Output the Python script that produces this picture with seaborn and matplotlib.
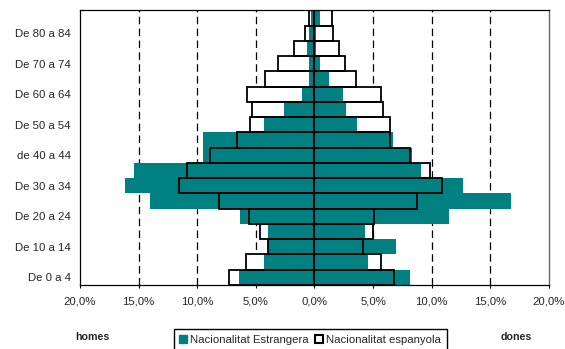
import numpy as np
import pandas as pd
import matplotlib
matplotlib.use("Agg")
import matplotlib.pyplot as plt
import seaborn as sns
from matplotlib.patches import Patch
from matplotlib.ticker import FuncFormatter

# age groups, bottom to top
edats = ["De 0 a 4", "De 5 a 9", "De 10 a 14", "De 15 a 19", "De 20 a 24",
         "De 25 a 29", "De 30 a 34", "De 35 a 39", "de 40 a 44", "De 45 a 49",
         "De 50 a 54", "De 55 a 59", "De 60 a 64", "De 65 a 69", "De 70 a 74",
         "De 75 a 79", "De 80 a 84", "De 85 i més"]

# % per group
estr_homes = [6.45, 4.3, 3.93, 3.93, 6.33, 14.04, 16.16, 15.39, 9.49, 9.49,
              4.3, 2.58, 1.08, 0.46, 0.46, 0.65, 0.5, 0.3]
estr_dones = [8.14, 4.55, 6.94, 4.3, 11.46, 16.74, 12.66, 9.06, 8.36, 6.67,
              3.63, 2.67, 2.43, 1.2, 0.46, 0.15, 0.1, 0.46]
esp_homes = [7.25, 5.81, 3.96, 4.64, 5.62, 8.14, 11.52, 10.88, 8.94, 6.6,
             5.53, 5.35, 5.78, 4.24, 3.1, 1.78, 0.77, 0.49]
esp_dones = [6.79, 5.65, 4.15, 4.95, 5.04, 8.73, 10.88, 9.83, 8.11, 6.45,
             6.45, 5.81, 5.65, 3.56, 2.61, 2.12, 1.6, 1.47]

teal = "#008080"

df = pd.DataFrame({
    "edat": edats,
    "estr_h": [-v for v in estr_homes],
    "estr_d": estr_dones,
    "esp_h": [-v for v in esp_homes],
    "esp_d": esp_dones,
})
order = edats[::-1]

sns.set_style("white")
plt.rcParams["font.family"] = ["Liberation Sans", "DejaVu Sans"]

fig = plt.figure(figsize=(5.65, 3.49), dpi=100)
ax = fig.add_axes([0.1416, 0.1834, 0.830, 0.787])

common = dict(y="edat", order=order, orient="h", width=1.0, errorbar=None, ax=ax)

# white fill of spanish bars
for col in ["esp_h", "esp_d"]:
    sns.barplot(data=df, x=col, color="white", linewidth=0, **common)
# foreign bars
for col in ["estr_h", "estr_d"]:
    sns.barplot(data=df, x=col, color=teal, saturation=1, linewidth=0, **common)
# spanish outlines on top
for col in ["esp_h", "esp_d"]:
    sns.barplot(data=df, x=col, color="black", fill=False, linewidth=1.3, **common)

ax.axvline(0, color="black", lw=1.5, zorder=5)

for g in [-15, -10, -5, 5, 10, 15]:
    ax.axvline(g, color="black", lw=0.9, ls=(0, (6, 3.5)), zorder=0.5)

ax.set_xlim(-20, 20)
ax.set_ylim(len(edats) - 0.5, -0.5)
ax.set_xticks(np.arange(-20, 21, 5))
ax.xaxis.set_major_formatter(FuncFormatter(lambda v, p: f"{abs(v):.1f}".replace(".", ",") + "%"))

labels = [lab if (len(edats) - 1 - i) % 2 == 0 else "" for i, lab in enumerate(order)]
ax.set_yticks(range(len(order)))
ax.set_yticklabels(labels)
ax.set_xlabel("")
ax.set_ylabel("")

ax.tick_params(axis="x", length=2, width=0.8, pad=6.5, labelsize=8.2, color="black", bottom=True)
ax.tick_params(axis="y", length=0, pad=6.5, labelsize=8.2)

for s in ["left", "bottom", "top"]:
    ax.spines[s].set_visible(True)
    ax.spines[s].set_color("black")
    ax.spines[s].set_linewidth(0.9)
ax.spines["right"].set_visible(True)
ax.spines["right"].set_color("#666666")
ax.spines["right"].set_linewidth(1.0)

handles = [Patch(facecolor=teal, edgecolor=teal, label="Nacionalitat Estrangera"),
           Patch(facecolor="white", edgecolor="black", linewidth=1.5, label="Nacionalitat espanyola")]
fig.legend(handles=handles, loc="upper center", bbox_to_anchor=(0.549, 0.057), ncol=2,
           fontsize=8.2, frameon=True, fancybox=False, edgecolor="black", framealpha=1,
           handlelength=0.7, handleheight=0.7, handletextpad=0.25, columnspacing=0.6,
           borderpad=0.5, borderaxespad=0)

fig.text(0.164, 0.035, "homes", fontsize=7.7, fontweight="bold", ha="center", va="center")
fig.text(0.914, 0.035, "dones", fontsize=7.7, fontweight="bold", ha="center", va="center")

fig.savefig("out.png", dpi=100)
